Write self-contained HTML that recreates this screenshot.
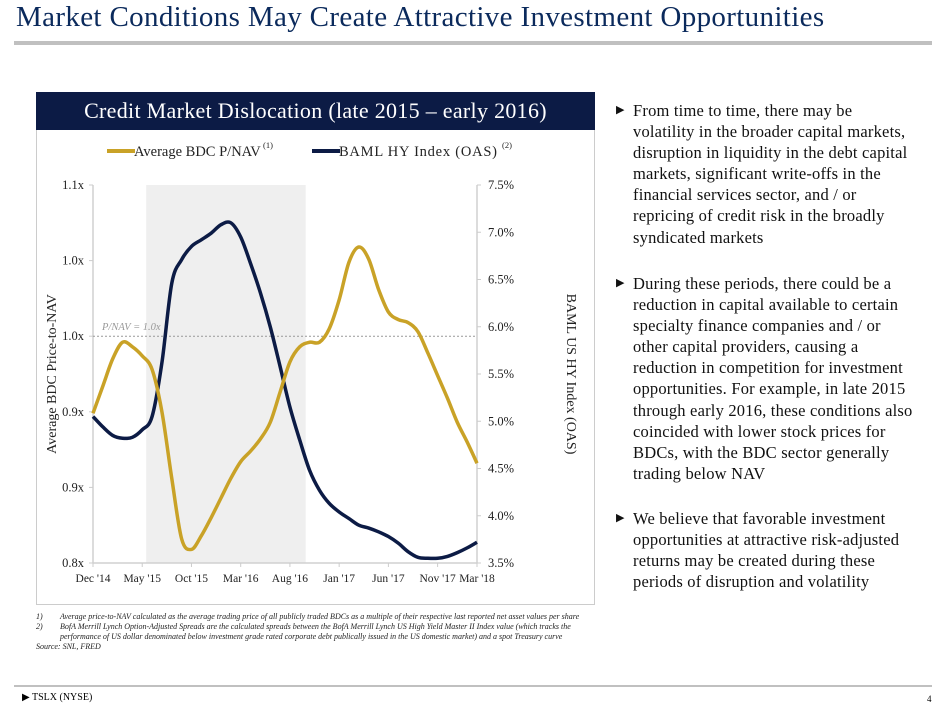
<!DOCTYPE html>
<html><head><meta charset="utf-8"><style>
body{margin:0;width:942px;height:709px;background:#fff;position:relative;overflow:hidden;font-family:"Liberation Serif",serif}
.abs{position:absolute}
#title{left:16px;top:1px;font-size:29px;color:#0b2a5c;white-space:nowrap;letter-spacing:0.35px}
#rule{left:14px;top:41px;width:918px;height:4px;background:#c0c0c0}
#hdr{left:36px;top:92px;width:559px;height:38px;background:#0c1b45;color:#fff;font-size:22px;text-align:center;line-height:38px;letter-spacing:0.3px}
#box{left:36px;top:130px;width:557px;height:474px;border:1px solid #ccc;border-top:none}
.bul{left:616px;font-size:16.5px;line-height:21.1px;color:#111;white-space:nowrap;letter-spacing:0.2px}
.bul span.m{position:absolute;left:0;top:0;font-size:11px}
.bul div{margin-left:17px}
.fn{font-size:8px;font-style:italic;color:#222;line-height:10px}
</style></head><body>
<div class="abs" id="title">Market Conditions May Create Attractive Investment Opportunities</div>
<div class="abs" id="rule"></div>
<div class="abs" id="hdr">Credit Market Dislocation (late 2015 – early 2016)</div>
<div class="abs" id="box"></div>
<svg class="abs" style="left:0;top:0" width="942" height="709" id="chart"></svg>
<div class="abs bul" style="top:100px"><span class="m">▶</span><div>From time to time, there may be<br>volatility in the broader capital markets,<br>disruption in liquidity in the debt capital<br>markets, significant write-offs in the<br>financial services sector, and / or<br>repricing of credit risk in the broadly<br>syndicated markets</div></div>
<div class="abs bul" style="top:273px"><span class="m">▶</span><div>During these periods, there could be a<br>reduction in capital available to certain<br>specialty finance companies and / or<br>other capital providers, causing a<br>reduction in competition for investment<br>opportunities. For example, in late 2015<br>through early 2016, these conditions also<br>coincided with lower stock prices for<br>BDCs, with the BDC sector generally<br>trading below NAV</div></div>
<div class="abs bul" style="top:508px"><span class="m">▶</span><div>We believe that favorable investment<br>opportunities at attractive risk-adjusted<br>returns may be created during these<br>periods of disruption and volatility</div></div>
<div class="abs fn" style="left:36px;top:612px;width:560px">
<div style="position:relative;padding-left:24px"><span style="position:absolute;left:0">1)</span>Average price-to-NAV calculated as the average trading price of all publicly traded BDCs as a multiple of their respective last reported net asset values per share</div>
<div style="position:relative;padding-left:24px"><span style="position:absolute;left:0">2)</span>BofA Merrill Lynch Option-Adjusted Spreads are the calculated spreads between the BofA Merrill Lynch US High Yield Master II Index value (which tracks the performance of US dollar denominated below investment grade rated corporate debt publically issued in the US domestic market) and a spot Treasury curve</div>
<div>Source: SNL, FRED</div></div>
<div class="abs" style="left:14px;top:685px;width:918px;height:2px;background:#c0c0c0"></div>
<div class="abs" style="left:22px;top:692px;font-size:10px">▶ TSLX (NYSE)</div>
<div class="abs" style="left:927px;top:694px;font-size:9px">4</div>
<script>
const months=["Dec '14","May '15","Oct '15","Mar '16","Aug '16","Jan '17","Jun '17","Nov '17","Mar '18"];
const monthIdx=[0,5,10,15,20,25,30,35,39];
const leftTicks=[1.10,1.05,1.00,0.95,0.90,0.85];
const leftLabels=["1.1x","1.0x","1.0x","0.9x","0.9x","0.8x"];
const rightTicks=[7.5,7.0,6.5,6.0,5.5,5.0,4.5,4.0,3.5];
const bdc=[0.949,0.967,0.985,0.996,0.993,0.987,0.978,0.950,0.906,0.866,0.859,0.868,0.880,0.893,0.906,0.917,0.924,0.932,0.943,0.963,0.983,0.993,0.996,0.996,1.005,1.024,1.049,1.059,1.051,1.031,1.016,1.011,1.009,1.003,0.989,0.974,0.959,0.943,0.930,0.916];
const oas=[5.05,4.94,4.85,4.82,4.83,4.91,5.05,5.62,6.46,6.71,6.85,6.92,6.99,7.08,7.10,6.95,6.67,6.36,6.00,5.58,5.15,4.80,4.48,4.27,4.13,4.04,3.97,3.90,3.87,3.83,3.78,3.71,3.62,3.56,3.55,3.55,3.57,3.61,3.66,3.72];
const shadeRange=[5.4,21.6];
const svg=document.getElementById('chart');const NS='http://www.w3.org/2000/svg';
const X0=93,X1=477,YT=185,YB=563;
const x=m=>X0+m*(X1-X0)/39;
const yL=v=>YB-(v-0.85)/(0.25)*(YB-YT);
const yR=v=>YB-(v-3.5)/4*(YB-YT);
function el(t,a,txt){const e=document.createElementNS(NS,t);for(const k in a)e.setAttribute(k,a[k]);if(txt!=null)e.textContent=txt;svg.appendChild(e);return e;}
function smooth(pts){let d=`M${pts[0][0]},${pts[0][1]}`;for(let i=0;i<pts.length-1;i++){const p0=pts[i-1]||pts[i],p1=pts[i],p2=pts[i+1],p3=pts[i+2]||p2;d+=`C${p1[0]+(p2[0]-p0[0])/6},${p1[1]+(p2[1]-p0[1])/6} ${p2[0]-(p3[0]-p1[0])/6},${p2[1]-(p3[1]-p1[1])/6} ${p2[0]},${p2[1]}`;}return d;}
let e=el('rect',{x:x(shadeRange[0]),y:YT,width:x(shadeRange[1])-x(shadeRange[0]),height:YB-YT,fill:'#efefef'});

e=el('line',{x1:X0,y1:YT,x2:X0,y2:YB,stroke:'#d0d0d0','stroke-width':1.5});

e=el('line',{x1:X1,y1:YT,x2:X1,y2:YB,stroke:'#d0d0d0','stroke-width':1.5});

e=el('line',{x1:X0,y1:YB,x2:X1,y2:YB,stroke:'#d0d0d0','stroke-width':1.5});

leftTicks.forEach((v,i)=>{e=el('text',{x:X0-9,y:yL(v)+4,'text-anchor':'end','font-size':12.5,fill:'#222'},leftLabels[i]);

el('line',{x1:X0-4,y1:yL(v),x2:X0,y2:yL(v),stroke:'#ccc'});});
rightTicks.forEach(v=>{e=el('text',{x:X1+11,y:yR(v)+4,'font-size':12.5,fill:'#222'},v.toFixed(1)+'%');

el('line',{x1:X1,y1:yR(v),x2:X1+4,y2:yR(v),stroke:'#ccc'});});
months.forEach((m,i)=>{e=el('text',{x:x(monthIdx[i]),y:YB+19,'text-anchor':'middle','font-size':11.5,fill:'#222'},m);

el('line',{x1:x(monthIdx[i]),y1:YB,x2:x(monthIdx[i]),y2:YB+4,stroke:'#ccc'});});
e=el('line',{x1:X0,y1:yL(1.0),x2:X1,y2:yL(1.0),stroke:'#999','stroke-dasharray':'2,2'});

e=el('text',{x:102,y:yL(1.0)-6,'font-size':10.5,'font-style':'italic',fill:'#999'},'P/NAV = 1.0x');

e=el('path',{d:smooth(oas.map((v,i)=>[x(i),yR(v)])),fill:'none',stroke:'#0c1b45','stroke-width':3.5,'stroke-linejoin':'round'});

e=el('path',{d:smooth(bdc.map((v,i)=>[x(i),yL(v)])),fill:'none',stroke:'#c9a227','stroke-width':3.5,'stroke-linejoin':'round'});

e=el('text',{x:0,y:0,'font-size':14,fill:'#222','text-anchor':'middle',transform:`translate(56,374) rotate(-90)`},'Average BDC Price-to-NAV');

e=el('text',{x:0,y:0,'font-size':14,fill:'#222','text-anchor':'middle',transform:`translate(567,374) rotate(90)`},'BAML US HY Index (OAS)');

e=el('line',{x1:107,y1:151,x2:135,y2:151,stroke:'#c9a227','stroke-width':4});

e=el('text',{x:134,y:156,'font-size':14.5,fill:'#222'},'Average BDC P/NAV');

el('text',{x:263,y:148,'font-size':8.5,fill:'#222'},'(1)');
e=el('line',{x1:312,y1:151,x2:340,y2:151,stroke:'#0c1b45','stroke-width':4});

e=el('text',{x:339,y:156,'font-size':14.5,fill:'#222',textLength:158},'BAML HY Index (OAS)');

el('text',{x:502,y:148,'font-size':8.5,fill:'#222'},'(2)');
</script>
</body></html>
